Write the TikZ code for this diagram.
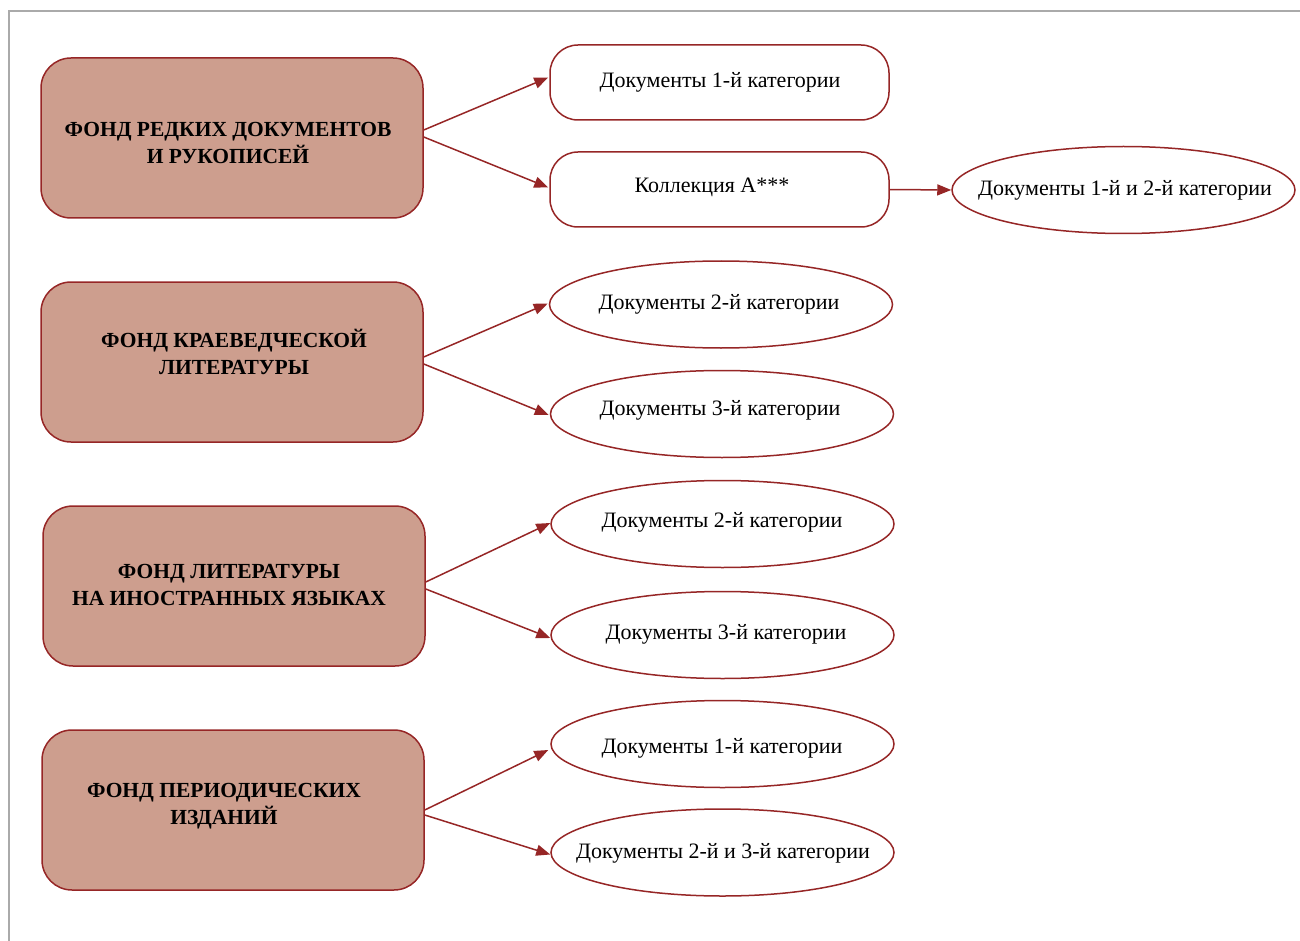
\documentclass[tikz,border=0pt]{standalone}
\usepackage{fontspec}
\setmainfont{Liberation Serif}
\usetikzlibrary{shapes.geometric,arrows.meta,calc}
\definecolor{brownfill}{RGB}{205,158,142}
\definecolor{darkred}{RGB}{150,38,38}
\definecolor{framegray}{RGB}{170,170,170}
\tikzset{
  fondbox/.style={draw=darkred,line width=1.5pt,fill=brownfill,rounded corners=30pt,minimum width=382pt,minimum height=160pt,inner sep=0pt},
  fondtext/.style={font=\fontsize{21.5}{27}\selectfont\bfseries,align=center,inner sep=0pt},
  docbox/.style={draw=darkred,line width=1.5pt,fill=white,rounded corners=28pt,minimum width=339pt,minimum height=75pt,inner sep=0pt},
  docell/.style={draw=darkred,line width=1.5pt,fill=white,ellipse,minimum width=343pt,minimum height=87pt,inner sep=0pt},
  doctext/.style={font=\fontsize{22}{26}\selectfont,inner sep=0pt},
  arr/.style={draw=darkred,line width=1.5pt,-{Triangle[length=14pt,width=11pt]}}
}
\begin{document}
\begin{tikzpicture}[x=1pt,y=-1pt]
\useasboundingbox (0,0) rectangle (1300,941);
\draw[framegray,line width=1.5pt] (9,941) -- (9,11) -- (1300,11);
% left boxes
\node[fondbox] (b1) at (232,138) {};
\node[fondtext] (t1) at (228,142.5) {ФОНД РЕДКИХ ДОКУМЕНТОВ\\И РУКОПИСЕЙ};
\node[fondbox] (b2) at (232,362) {};
\node[fondtext] (t2) at (234,351.5) {ФОНД КРАЕВЕДЧЕСКОЙ\\ЛИТЕРАТУРЫ};
\node[fondbox] (b3) at (234,586) {};
\node[fondtext] (t3) at (229,584.5) {ФОНД ЛИТЕРАТУРЫ\\НА ИНОСТРАННЫХ ЯЗЫКАХ};
\node[fondbox] (b4) at (233,810) {};
\node[fondtext] (t4) at (224,806) {ФОНД ПЕРИОДИЧЕСКИХ\\ИЗДАНИЙ};
% right nodes
\node[docbox] (r1a) at (719.5,82.5) {};
\node[doctext] (r1at) at (720,82) {Документы 1-й категории};
\node[docbox] (r1b) at (719.5,189.5) {};
\node[doctext] (r1bt) at (712,187) {Коллекция А***};
\node[docell] (r1c) at (1123.5,190) {};
\node[doctext] (r1ct) at (1125,190) {Документы 1-й и 2-й категории};
\node[docell] (r2a) at (721,304.5) {};
\node[doctext] (r2at) at (719,304) {Документы 2-й категории};
\node[docell] (r2b) at (722,414) {};
\node[doctext] (r2bt) at (720,410) {Документы 3-й категории};
\node[docell] (r3a) at (722.5,524) {};
\node[doctext] (r3at) at (722,522) {Документы 2-й категории};
\node[docell] (r3b) at (722.5,635) {};
\node[doctext] (r3bt) at (726,634) {Документы 3-й категории};
\node[docell] (r4a) at (722.5,744) {};
\node[doctext] (r4at) at (722,748) {Документы 1-й категории};
\node[docell] (r4b) at (722.5,852.5) {};
\node[doctext] (r4bt) at (723,853) {Документы 2-й и 3-й категории};
% arrows
\draw[arr] ($(b1.east)+(0,-8)$) -- ($(r1a.west)+(-1,-5)$);
\draw[arr] ($(b1.east)+(0,-1)$) -- ($(r1b.west)+(-1,-2)$);
\draw[arr] (r1b.east) -- (r1c.west);
\draw[arr] ($(b2.east)+(0,-5)$) -- ($(r2a.west)+(-1,-1)$);
\draw[arr] ($(b2.east)+(0,2)$) -- ($(r2b.west)+(-1,1)$);
\draw[arr] ($(b3.east)+(0,-4)$) -- ($(r3a.west)+(0,-1)$);
\draw[arr] ($(b3.east)+(0,3)$) -- ($(r3b.west)+(0,3)$);
\draw[arr] ($(b4.east)+(0,0)$) -- ($(r4a.west)+(-2,6)$);
\draw[arr] ($(b4.east)+(0,5)$) -- ($(r4b.west)+(0,2)$);
\end{tikzpicture}
\end{document}
